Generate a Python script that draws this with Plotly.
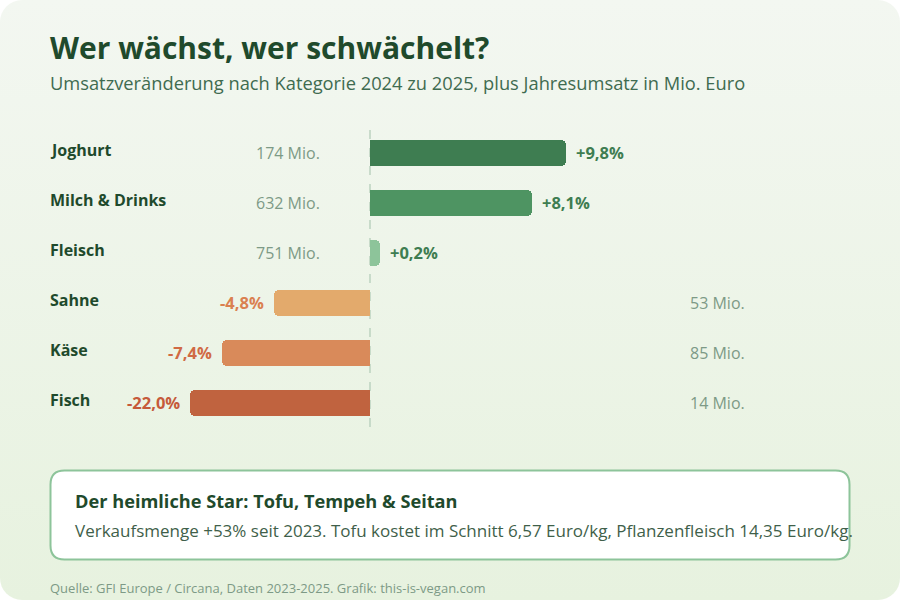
import base64
import numpy as np
import plotly.graph_objects as go

# ---------------- data ----------------
categories = ["Joghurt", "Milch & Drinks", "Fleisch", "Sahne", "Käse", "Fisch"]
change_pct = [9.8, 8.1, 0.2, -4.8, -7.4, -22.0]
change_labels = ["+9,8%", "+8,1%", "+0,2%", "-4,8%", "-7,4%", "-22,0%"]
revenue_mio = [174, 632, 751, 53, 85, 14]

bar_colors = ["#3e7d51", "#4e9462", "#8dc49a", "#e3aa6c", "#d98a5a", "#c0633f"]
label_colors = ["#3e7d51", "#3e7d51", "#3e7d51", "#da8050", "#d06a44", "#c55a3a"]

W, H = 900, 600
FONT = "Open Sans"
DARK = "#1f4a2c"
MUTED = "#7d9a86"

# bar display: long bars capped, tiny bars get a minimum visible length
vals = np.array(change_pct)
disp = np.clip(vals, -9.0, None)
disp = np.where(np.abs(disp) < 0.5, np.sign(disp) * 0.5, disp)

# pixel mapping (zero line at x=370, 20 px per %; rows at y=153 + 50*i)
x0_px, px_per_pct = 370, 20
x_range = [-x0_px / px_per_pct, (W - x0_px) / px_per_pct]
y_row0, row_px = 153, 50
y_range = [(H - y_row0) / row_px, -y_row0 / row_px]

rows = list(range(len(categories)))

fig = go.Figure()
fig.add_trace(go.Bar(
    x=disp, y=rows, orientation="h", width=0.52,
    marker=dict(color=bar_colors, cornerradius=5, line_width=0),
    hoverinfo="skip",
))

# background card (gradient + rounded corners) as an SVG image
svg = f'''<svg xmlns="http://www.w3.org/2000/svg" width="{W}" height="{H}" viewBox="0 0 {W} {H}">
<defs><linearGradient id="g" x1="0" y1="0" x2="0" y2="1">
<stop offset="0" stop-color="#f3f7f1"/><stop offset="1" stop-color="#e7f2df"/></linearGradient></defs>
<rect x="0" y="0" width="{W}" height="{H}" rx="22" ry="22" fill="url(#g)"/></svg>'''
src = "data:image/svg+xml;base64," + base64.b64encode(svg.encode()).decode()

def px(x):
    return x / W

def py(y):
    return 1 - y / H

def rounded_rect(x1, y1, x2, y2, r):
    return (f"M {px(x1 + r)},{py(y1)} L {px(x2 - r)},{py(y1)} "
            f"Q {px(x2)},{py(y1)} {px(x2)},{py(y1 + r)} L {px(x2)},{py(y2 - r)} "
            f"Q {px(x2)},{py(y2)} {px(x2 - r)},{py(y2)} L {px(x1 + r)},{py(y2)} "
            f"Q {px(x1)},{py(y2)} {px(x1)},{py(y2 - r)} L {px(x1)},{py(y1 + r)} "
            f"Q {px(x1)},{py(y1)} {px(x1 + r)},{py(y1)} Z")

shapes = [
    dict(type="line", xref="x", yref="y", x0=0, x1=0, y0=-0.46, y1=5.54,
         line=dict(color="#bcd2c0", width=1.5, dash="dash"), layer="below"),
    dict(type="path", xref="paper", yref="paper", path=rounded_rect(50.5, 470.5, 849.5, 559.5, 14),
         fillcolor="#ffffff", line=dict(color="#8dc49a", width=2), layer="below"),
]

OFF = 2  # annotation inner padding compensation (px)
ann = []
ann.append(dict(text="<b>Wer wächst, wer schwächelt?</b>", x=px(50 - OFF), y=py(47), xref="paper", yref="paper",
                xanchor="left", yanchor="middle", showarrow=False,
                font=dict(family=FONT, size=30, color=DARK)))
ann.append(dict(text="Umsatzveränderung nach Kategorie 2024 zu 2025, plus Jahresumsatz in Mio. Euro",
                x=px(50 - OFF), y=py(83), xref="paper", yref="paper", xanchor="left", yanchor="middle",
                showarrow=False, font=dict(family=FONT, size=18.3, color="#3f6b50")))

for i, (cat, v, d, lab, rev, lc) in enumerate(zip(categories, vals, disp, change_labels, revenue_mio, label_colors)):
    ann.append(dict(text=f"<b>{cat}</b>", x=px(50 - OFF), xref="paper", y=i, yref="y", yshift=3,
                    xanchor="left", yanchor="middle", showarrow=False,
                    font=dict(family=FONT, size=16, color=DARK)))
    if v >= 0:
        ann.append(dict(text=f"<b>{lab}</b>", x=d, xref="x", y=i, yref="y", xshift=10 - OFF, yshift=1,
                        xanchor="left", yanchor="middle", showarrow=False,
                        font=dict(family=FONT, size=16.5, color=lc)))
        ann.append(dict(text=f"{rev} Mio.", x=px(320 + OFF), xref="paper", y=i, yref="y",
                        xanchor="right", yanchor="middle", showarrow=False,
                        font=dict(family=FONT, size=16, color=MUTED)))
    else:
        ann.append(dict(text=f"<b>{lab}</b>", x=d, xref="x", y=i, yref="y", xshift=-(10 - OFF), yshift=1,
                        xanchor="right", yanchor="middle", showarrow=False,
                        font=dict(family=FONT, size=16.5, color=lc)))
        ann.append(dict(text=f"{rev} Mio.", x=px(690 - OFF), xref="paper", y=i, yref="y",
                        xanchor="left", yanchor="middle", showarrow=False,
                        font=dict(family=FONT, size=16, color=MUTED)))

ann.append(dict(text="<b>Der heimliche Star: Tofu, Tempeh & Seitan</b>", x=px(75 - OFF), y=py(501),
                xref="paper", yref="paper", xanchor="left", yanchor="middle", showarrow=False,
                font=dict(family=FONT, size=18.2, color=DARK)))
ann.append(dict(text="Verkaufsmenge +53% seit 2023. Tofu kostet im Schnitt 6,57 Euro/kg, Pflanzenfleisch 14,35 Euro/kg.",
                x=px(75 - OFF), y=py(530), xref="paper", yref="paper", xanchor="left", yanchor="middle",
                showarrow=False, font=dict(family=FONT, size=17, color="#3f5f4a")))
ann.append(dict(text="Quelle: GFI Europe / Circana, Daten 2023-2025. Grafik: this-is-vegan.com",
                x=px(50 - OFF), y=py(588), xref="paper", yref="paper", xanchor="left", yanchor="middle",
                showarrow=False, font=dict(family=FONT, size=13, color=MUTED)))

fig.update_layout(
    width=W, height=H,
    margin=dict(l=0, r=0, t=0, b=0),
    paper_bgcolor="#ffffff", plot_bgcolor="rgba(0,0,0,0)",
    showlegend=False,
    xaxis=dict(range=x_range, visible=False, fixedrange=True),
    yaxis=dict(range=y_range, visible=False, fixedrange=True),
    images=[dict(source=src, xref="paper", yref="paper", x=0, y=1, sizex=1, sizey=1,
                 xanchor="left", yanchor="top", sizing="stretch", layer="below")],
    shapes=shapes,
    annotations=ann,
    bargap=0,
)

fig.write_html("out.html", config=dict(displayModeBar=False))
